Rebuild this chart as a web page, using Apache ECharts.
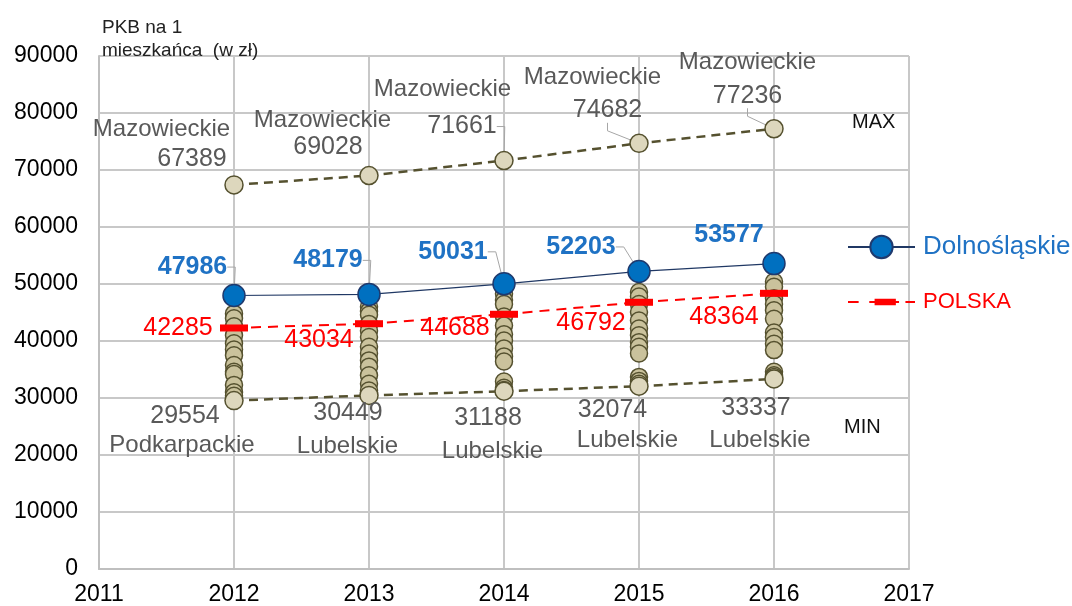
<!DOCTYPE html>
<html><head><meta charset="utf-8">
<script src="https://cdn.jsdelivr.net/npm/echarts@6/dist/echarts.min.js"></script>
<style>html,body{margin:0;padding:0;background:#fff}#c{width:1072px;height:606px}</style>
</head><body><div id="c"></div>
<script>
// ---------- data ----------
const years = [2012, 2013, 2014, 2015, 2016];
const xMin = 2011, xMax = 2017, xStep = 1;
const yMin = 0, yMax = 90000, yStep = 10000;
const maxValues = [67389, 69028, 71661, 74682, 77236];
const maxNames = ['Mazowieckie', 'Mazowieckie', 'Mazowieckie', 'Mazowieckie', 'Mazowieckie'];
const minValues = [29554, 30449, 31188, 32074, 33337];
const minNames = ['Podkarpackie', 'Lubelskie', 'Lubelskie', 'Lubelskie', 'Lubelskie'];
const dolnoslaskie = [47986, 48179, 50031, 52203, 53577];
const polska = [42285, 43034, 44688, 46792, 48364];
const others2012 = [44800, 44000, 42600, 41000, 39600, 38500, 37500, 35800, 34600, 34200, 32300, 31000, 30400];
const others2013 = [46000, 45200, 44600, 43000, 41800, 40700, 39000, 37800, 36600, 35500, 34000, 32500, 31300];
const others2014 = [48300, 47200, 46500, 44300, 42700, 41200, 40100, 38700, 37300, 36400, 32900, 31800, 31400];
const others2015 = [48600, 47800, 46500, 45100, 43600, 42200, 41000, 39800, 39000, 37800, 33700, 33000, 32500];
const others2016 = [50400, 49500, 47500, 46500, 45400, 43900, 41500, 40700, 39500, 38400, 34600, 34000, 33700];
const othersByYear = [others2012, others2013, others2014, others2015, others2016];

// ---------- label layout (offsets of label centre from its point, px) ----------
const LBL = {
  maxVal:  [[-42,-26],[-41,-28],[-42,-34],[-31.5,-33],[-26.5,-33]],
  maxName: [[-72.5,-56],[-46.5,-55],[-61.5,-71],[-46.5,-66],[-26.5,-66]],
  minVal:  [[-49,16],[-21,18],[-16,27],[-26.5,24],[-18,29.5]],
  minName: [[-52,45],[-21.5,51],[-11.5,60.5],[-11.5,54],[-14,61]],
  dol:     [[-41.5,-28.4],[-41,-34],[-51,-32],[-58,-24.5],[-45,-28.5]],
  pol:     [[-56,0],[-50,16.5],[-49,14],[-48,21],[-50,23.5]]
};
const FONT = 'Liberation Sans, Arial, sans-serif';
const GRAY = '#595959', BLUE = '#1f72c4', RED = '#ff0000';
const OLIVE = '#55512f', BEIGE = '#cac29c', BEIGE_L = '#ddd7bd';

function layout(off) {
  return function (p) {
    const r = p.rect, o = off[p.dataIndex];
    return { x: r.x + r.width / 2 + o[0], y: r.y + r.height / 2 + o[1], align: 'center', verticalAlign: 'middle' };
  };
}
const leader = { show: true, length2: 8, lineStyle: { color: '#a6a6a6', width: 1 } };
const pairs = arr => years.map((y, i) => [y, arr[i]]);
const othersData = [];
othersByYear.forEach((list, i) => list.forEach(v => othersData.push([years[i], v])));

const chart = echarts.init(document.getElementById('c'), null, { renderer: 'canvas' });
chart.setOption({
  animation: false,
  textStyle: { fontFamily: FONT },
  grid: { left: 99, right: 163, top: 56, bottom: 37, containLabel: false },
  xAxis: {
    type: 'value', min: xMin, max: xMax, interval: xStep,
    axisLine: { show: true, lineStyle: { color: '#bfbfbf', width: 2 } },
    axisTick: { show: false },
    splitLine: { show: true, lineStyle: { color: '#c8c8c8', width: 2 } },
    axisLabel: { formatter: v => String(v), color: '#000', fontSize: 23, margin: 14, fontFamily: FONT }
  },
  yAxis: {
    type: 'value', min: yMin, max: yMax, interval: yStep,
    axisLine: { show: true, lineStyle: { color: '#bfbfbf', width: 2 } },
    axisTick: { show: false },
    splitLine: { show: true, lineStyle: { color: '#c8c8c8', width: 2 } },
    axisLabel: { formatter: v => String(v), color: '#000', fontSize: 23, margin: 21, fontFamily: FONT }
  },
  legend: {
    orient: 'vertical', left: 842, top: 229, itemWidth: 67, itemHeight: 28, itemGap: 31,
    selectedMode: false,
    textStyle: { fontSize: 26, fontFamily: FONT, padding: [0, 0, 0, 3] },
    data: [
      { name: 'Dolnośląskie', textStyle: { color: BLUE, fontSize: 26 } },
      { name: 'POLSKA', icon: 'path://M0,2h10v2h-10z M20,2h5v2h-5z M25,0h20v6h-20z M45,2h3v2h-3z M54,2h9v2h-9z', textStyle: { color: RED, fontSize: 22 } }
    ]
  },
  graphic: [
    { type: 'text', left: 102, top: 16, z: 10, style: { text: 'PKB na 1\nmieszkańca  (w zł)', font: '19px ' + FONT, fill: '#222', lineHeight: 23.5 } },
    { type: 'text', left: 852, top: 112, style: { text: 'MAX', font: '20px ' + FONT, fill: '#111' } },
    { type: 'text', left: 844, top: 417, style: { text: 'MIN', font: '20px ' + FONT, fill: '#111' } }
  ],
  series: [
    {
      name: 'others', type: 'scatter', data: othersData, symbolSize: 17, z: 2, silent: true,
      itemStyle: { color: BEIGE, borderColor: OLIVE, borderWidth: 1.5, opacity: 1 }
    },
    {
      name: 'MAX', type: 'line', z: 3,
      data: pairs(maxValues).map((d, i) => ({ value: d, labelLine: { show: i >= 2 } })),
      symbol: 'circle', symbolSize: 18,
      itemStyle: { color: BEIGE_L, borderColor: OLIVE, borderWidth: 1.5 },
      lineStyle: { color: OLIVE, width: 2.5, type: [9, 6] },
      label: { show: true, formatter: p => String(p.value[1]), color: GRAY, fontSize: 25, fontFamily: FONT },
      labelLayout: layout(LBL.maxVal),
      labelLine: leader
    },
    {
      name: 'MIN', type: 'line', z: 3,
      data: pairs(minValues),
      symbol: 'circle', symbolSize: 18,
      itemStyle: { color: BEIGE_L, borderColor: OLIVE, borderWidth: 1.5 },
      lineStyle: { color: OLIVE, width: 2.5, type: [9, 6] },
      label: { show: true, formatter: p => String(p.value[1]), color: GRAY, fontSize: 25, fontFamily: FONT },
      labelLayout: layout(LBL.minVal)
    },
    {
      name: 'POLSKA', type: 'line', z: 4,
      data: pairs(polska),
      symbol: 'rect', symbolSize: [28, 7],
      itemStyle: { color: RED, borderWidth: 0 },
      lineStyle: { color: RED, width: 2, type: [10, 7] },
      label: { show: true, formatter: p => String(p.value[1]), color: RED, fontSize: 25, fontFamily: FONT },
      labelLayout: layout(LBL.pol)
    },
    {
      name: 'Dolnośląskie', type: 'line', z: 5,
      data: pairs(dolnoslaskie).map((d, i) => ({ value: d, labelLine: { show: i <= 3 } })),
      symbol: 'circle', symbolSize: 22,
      itemStyle: { color: '#0070c0', borderColor: '#1f3a6e', borderWidth: 1.5 },
      lineStyle: { color: '#203864', width: 1.2 },
      label: { show: true, formatter: p => String(p.value[1]), color: BLUE, fontSize: 25, fontWeight: 'bold', fontFamily: FONT },
      labelLayout: layout(LBL.dol),
      labelLine: leader
    },
    {
      name: 'maxNames', type: 'scatter', z: 1, silent: true,
      data: pairs(maxValues), symbolSize: 0.01, itemStyle: { color: GRAY, opacity: 1 },
      label: { show: true, opacity: 1, formatter: p => maxNames[p.dataIndex], color: GRAY, fontSize: 24, fontFamily: FONT },
      labelLayout: layout(LBL.maxName)
    },
    {
      name: 'minNames', type: 'scatter', z: 1, silent: true,
      data: pairs(minValues), symbolSize: 0.01, itemStyle: { color: GRAY, opacity: 1 },
      label: { show: true, opacity: 1, formatter: p => minNames[p.dataIndex], color: GRAY, fontSize: 24, fontFamily: FONT },
      labelLayout: layout(LBL.minName)
    }
  ]
});
</script>
</body></html>
